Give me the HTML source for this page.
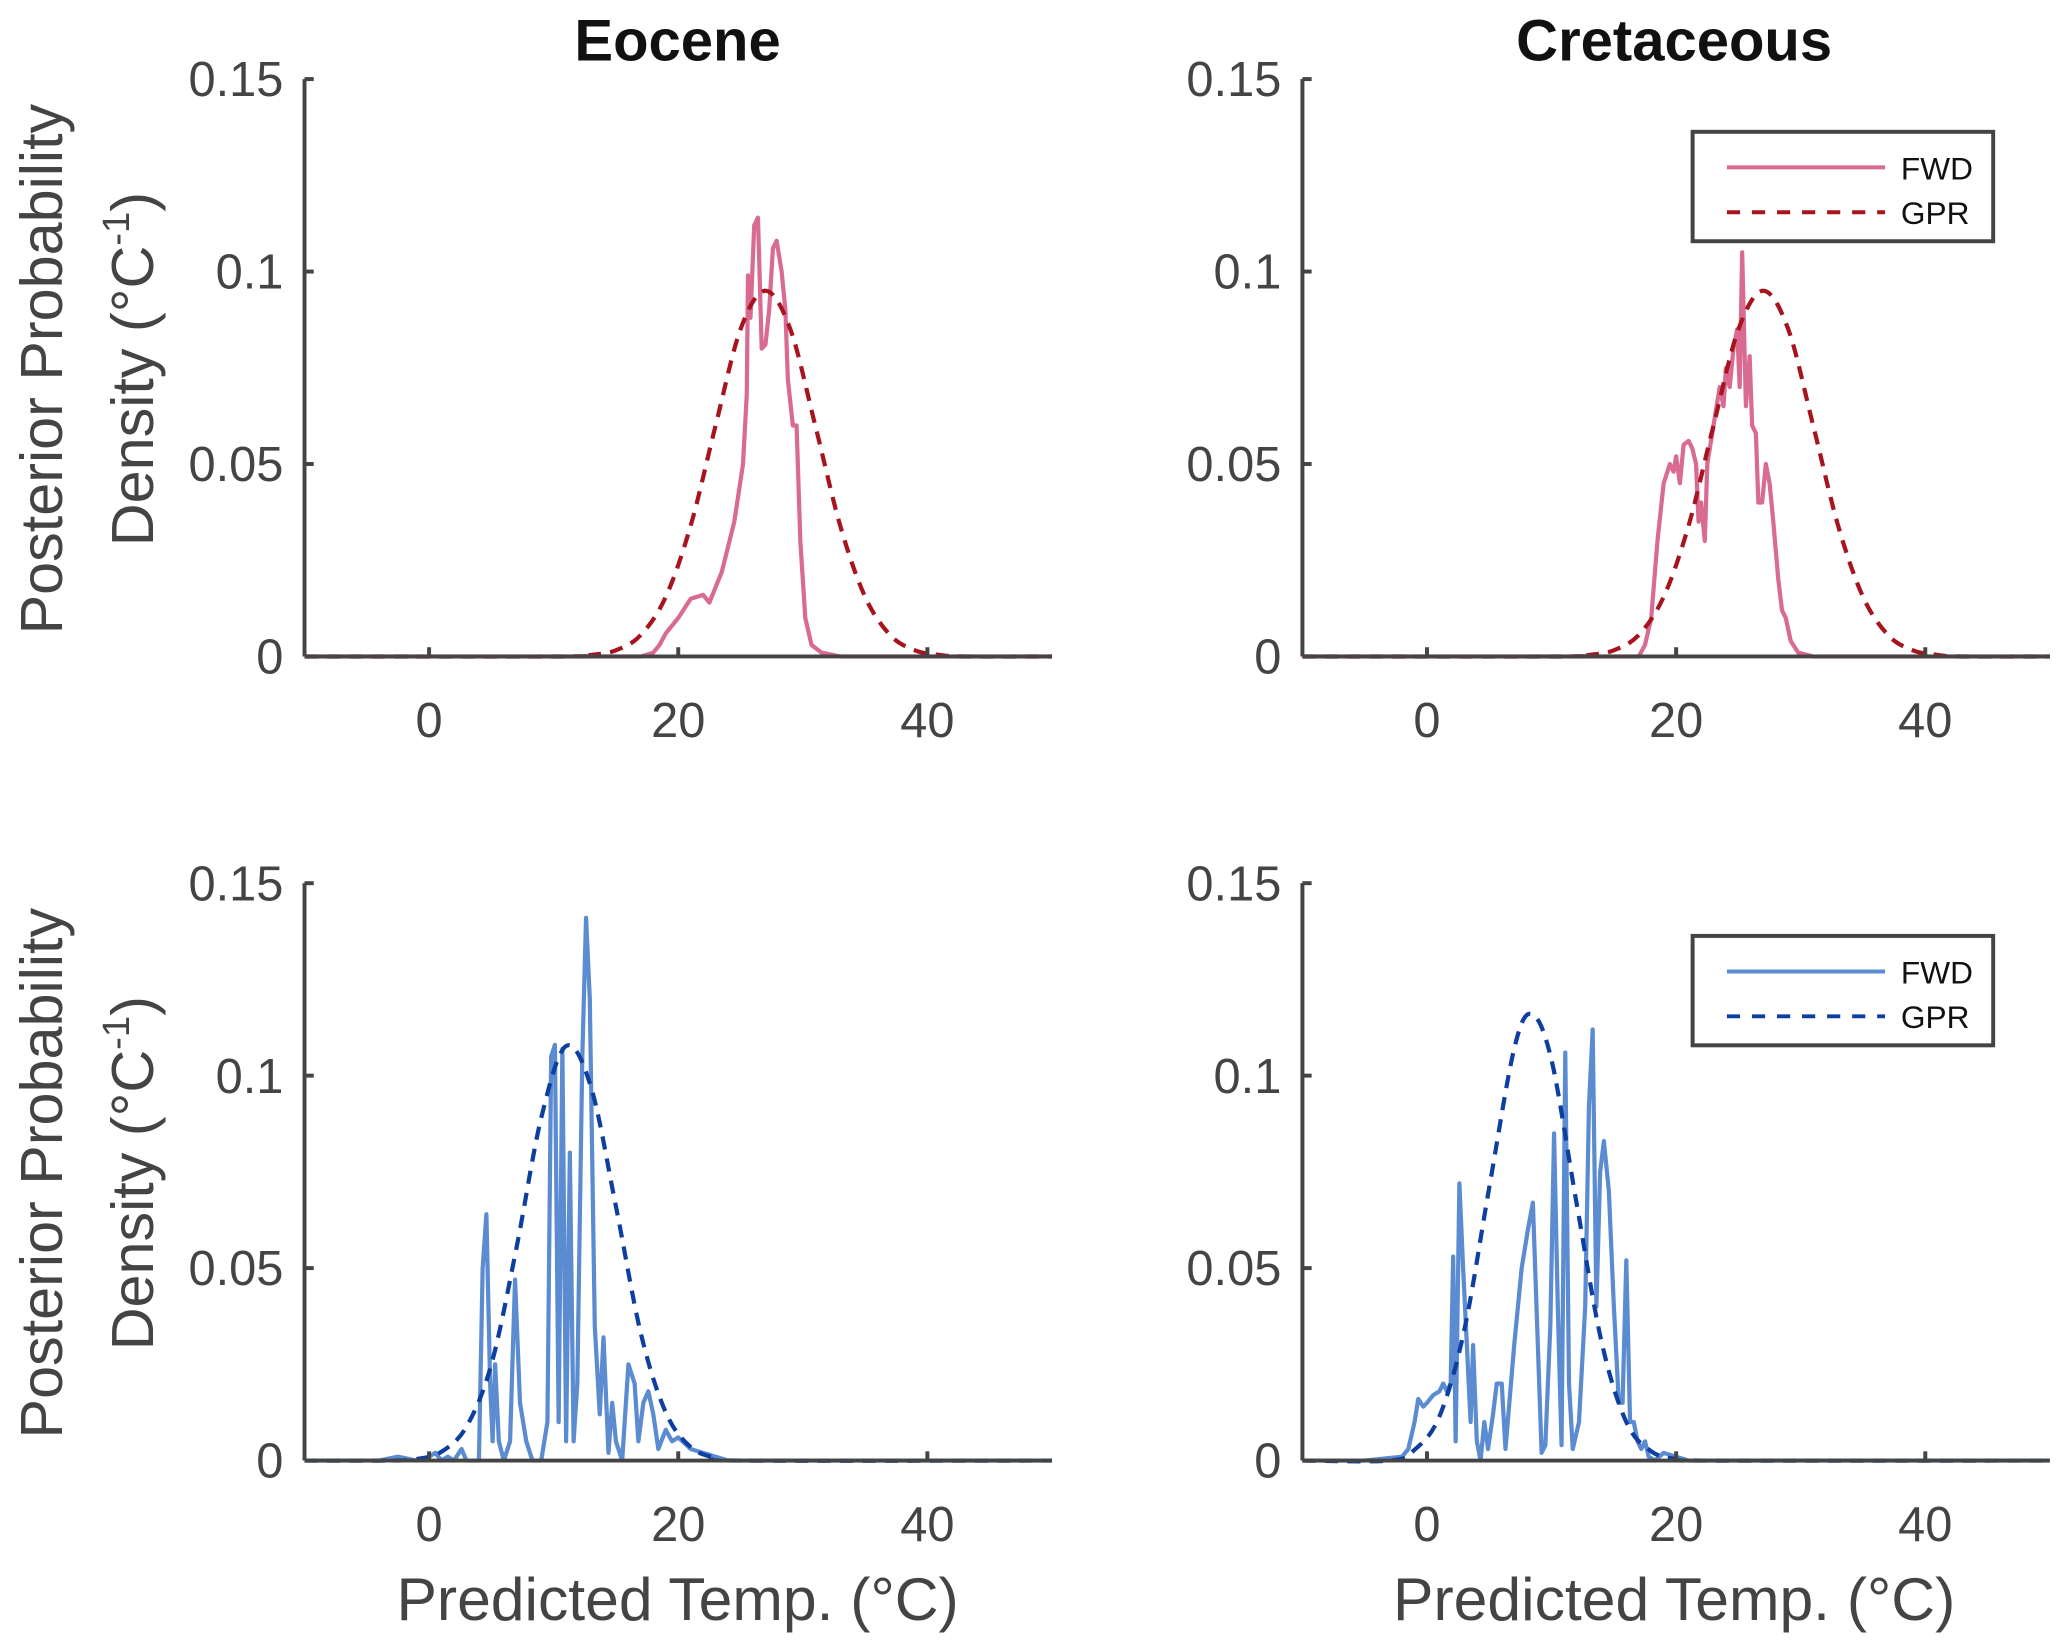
<!DOCTYPE html>
<html><head><meta charset="utf-8">
<style>
html,body{margin:0;padding:0;background:#fff;}
svg{display:block;font-family:"Liberation Sans",Arial,sans-serif;}
</style></head>
<body>
<svg id="fig" width="2067" height="1648" viewBox="0 0 1568 1250.2" preserveAspectRatio="none" xmlns="http://www.w3.org/2000/svg"></svg>
<script>
// ---- data ----
const xTicks = [0, 20, 40];
const yTicks = [0, 0.05, 0.1, 0.15];
const yTickLabels = ["0", "0.05", "0.1", "0.15"];
const xTickLabels = ["0", "20", "40"];

const eoWarmFwdX = [-10,17,18,18.5,19,20,21,22,22.5,23.5,24.5,25.2,25.5,25.6,25.8,26.1,26.4,26.7,27,27.3,27.6,27.9,28.3,28.6,28.8,29.2,29.5,29.8,30.2,30.7,31.5,33,50];
const eoWarmFwdY = [0,0,0.001,0.003,0.006,0.01,0.015,0.016,0.014,0.022,0.035,0.05,0.068,0.099,0.088,0.112,0.114,0.08,0.081,0.09,0.106,0.108,0.1,0.09,0.072,0.06,0.06,0.03,0.01,0.003,0.001,0,0];
const eoWarmGprX = [-10,11,13,15,17,19,21,23,25,27,29,31,33,35,37,39,41,43,50];
const eoWarmGprY = [0,0,0.0004,0.0016,0.0056,0.0155,0.034,0.060,0.085,0.095,0.085,0.060,0.034,0.0155,0.0056,0.0016,0.0004,0,0];

const crWarmFwdX = [-10,17,17.5,18,18.5,19,19.5,19.8,20,20.3,20.6,21,21.3,21.6,21.8,22,22.3,22.5,23,23.5,23.8,24,24.3,24.6,24.9,25.1,25.3,25.6,25.9,26.1,26.4,26.6,26.9,27.2,27.5,27.8,28.2,28.5,28.8,29.2,29.8,31,50];
const crWarmFwdY = [0,0,0.003,0.01,0.03,0.045,0.05,0.048,0.052,0.045,0.055,0.056,0.054,0.05,0.035,0.04,0.03,0.05,0.06,0.07,0.065,0.075,0.07,0.08,0.085,0.07,0.105,0.065,0.078,0.06,0.058,0.04,0.04,0.05,0.045,0.035,0.02,0.012,0.01,0.004,0.001,0,0];
const crWarmGprX = [-10,11,13,15,17,19,21,23,25,27,29,31,33,35,37,39,41,43,50];
const crWarmGprY = [0,0,0.0004,0.0016,0.0056,0.0155,0.034,0.060,0.085,0.095,0.085,0.060,0.034,0.0155,0.0056,0.0016,0.0004,0,0];

const eoColdFwdX = [-10,-4,-2.5,-1,0,0.5,1,1.5,2,2.6,3,4,4.3,4.6,4.9,5.1,5.3,5.6,6,6.5,6.9,7.3,7.8,8.3,9,9.5,9.8,10.1,10.4,10.7,11,11.3,11.6,11.9,12.3,12.6,12.9,13.3,13.7,14,14.4,14.7,15,15.5,16,16.5,16.8,17.2,17.6,18,18.4,19,19.5,20,21,22,23,24,50];
const eoColdFwdY = [0,0,0.001,0,0.001,0.002,0,0.001,0,0.003,0,0,0.05,0.064,0.02,0.005,0.025,0.005,0,0.005,0.047,0.015,0.005,0,0,0.01,0.105,0.108,0.01,0.107,0.005,0.08,0.005,0.02,0.105,0.141,0.12,0.035,0.012,0.032,0.002,0.015,0.005,0,0.025,0.02,0.005,0.015,0.018,0.012,0.003,0.008,0.005,0.006,0.003,0.002,0.001,0,0];
const eoColdGprX = [-10,-3,-1,1,3,5,7,9,11,13,15,17,19,21,23,25,50];
const eoColdGprY = [0,0,0.0004,0.0023,0.0088,0.025,0.055,0.089,0.1077,0.097,0.066,0.033,0.0125,0.0035,0.0007,0,0];

const crColdFwdX = [-10,-5,-2,-1.5,-1,-0.7,-0.3,0,0.5,1,1.3,1.6,1.9,2.1,2.3,2.6,2.9,3.2,3.5,3.7,4,4.3,4.6,4.9,5.3,5.6,6,6.3,7,7.6,8.1,8.5,9.2,9.5,9.9,10.2,10.5,10.8,11.1,11.4,11.7,12.2,12.7,13,13.3,13.6,13.9,14.2,14.6,15,15.4,15.7,16,16.3,16.6,16.9,17.2,17.5,17.8,18.3,19,20,21,50];
const crColdFwdY = [0,0,0.001,0.003,0.01,0.016,0.014,0.015,0.017,0.018,0.02,0.018,0.02,0.053,0.005,0.072,0.05,0.03,0.01,0.03,0.005,0,0.01,0.003,0.012,0.02,0.02,0.003,0.03,0.05,0.06,0.067,0.002,0.004,0.035,0.085,0.04,0.004,0.106,0.02,0.003,0.01,0.04,0.092,0.112,0.04,0.075,0.083,0.07,0.04,0.015,0.015,0.052,0.01,0.01,0.005,0.003,0.005,0.001,0,0.002,0.001,0,0];
const crColdGprX = [-10,-3,-1,1,3,5,7,8.4,10,12,14,16,18,20,22,50];
const crColdGprY = [0,0,0.0028,0.0115,0.034,0.071,0.107,0.116,0.104,0.067,0.031,0.010,0.0024,0.0004,0,0];

// ---- layout ----
const NS = "http://www.w3.org/2000/svg";
const svg = document.getElementById('fig');
function el(tag, attrs, parent, text){
  const e = document.createElementNS(NS, tag);
  for (const k in attrs) e.setAttribute(k, attrs[k]);
  if (text !== undefined) e.textContent = text;
  (parent || svg).appendChild(e);
  return e;
}
const cols = [{x0:231, x1:798}, {x0:988, x1:1555}];
const rows = [{yt:60, yb:498}, {yt:670, yb:1108}];
const AX = '#444';

const panels = [
  {c:0, r:0, name:'eocene-warm', fx:eoWarmFwdX, fy:eoWarmFwdY, gx:eoWarmGprX, gy:eoWarmGprY, fc:'#d96b92', gc:'#a8141e', legend:false},
  {c:1, r:0, name:'cretaceous-warm', fx:crWarmFwdX, fy:crWarmFwdY, gx:crWarmGprX, gy:crWarmGprY, fc:'#d96b92', gc:'#a8141e', legend:true},
  {c:0, r:1, name:'eocene-cold', fx:eoColdFwdX, fy:eoColdFwdY, gx:eoColdGprX, gy:eoColdGprY, fc:'#5b8bd0', gc:'#0d3fa0', legend:false},
  {c:1, r:1, name:'cretaceous-cold', fx:crColdFwdX, fy:crColdFwdY, gx:crColdGprX, gy:crColdGprY, fc:'#5b8bd0', gc:'#0d3fa0', legend:true}
];

function smoothPath(pts){
  let d = 'M' + pts[0][0] + ',' + pts[0][1];
  for (let i = 0; i < pts.length - 1; i++){
    const p0 = pts[i-1] || pts[i], p1 = pts[i], p2 = pts[i+1], p3 = pts[i+2] || p2;
    const c1x = p1[0] + (p2[0]-p0[0])/6, c1y = p1[1] + (p2[1]-p0[1])/6;
    const c2x = p2[0] - (p3[0]-p1[0])/6, c2y = p2[1] - (p3[1]-p1[1])/6;
    d += ' C' + c1x + ',' + c1y + ' ' + c2x + ',' + c2y + ' ' + p2[0] + ',' + p2[1];
  }
  return d;
}

panels.forEach(p => {
  const col = cols[p.c], row = rows[p.r];
  const sx = v => col.x0 + (v + 10) / 60 * (col.x1 - col.x0);
  const sy = v => row.yb - v / 0.15 * (row.yb - row.yt);
  const g = el('g', {});
  
  

  const gpts = p.gx.map((x, i) => [sx(x), sy(p.gy[i])]);
  const fpts = p.fx.map((x, i) => [sx(x), sy(p.fy[i])]);
  const fl = el('polyline', {points: fpts.map(q => q.join(',')).join(' '), fill:'none', stroke:p.fc, 'stroke-width':3.2, 'stroke-linejoin':'round'}, g);
  
  
  const gl = el('path', {d: smoothPath(gpts), fill:'none', stroke:p.gc, 'stroke-width':3.2, 'stroke-dasharray':'10 7'}, g);
  
  

  const ya = el('line', {x1:col.x0, y1:row.yt, x2:col.x0, y2:row.yb, stroke:AX, 'stroke-width':3}, g);
  
  
  const xa = el('line', {x1:col.x0, y1:row.yb, x2:col.x1, y2:row.yb, stroke:AX, 'stroke-width':3}, g);
  
  

  yTicks.forEach((t, i) => {
    el('line', {x1:col.x0, y1:sy(t), x2:col.x0+7, y2:sy(t), stroke:AX, 'stroke-width':3}, g);
    const tl = el('text', {x:col.x0-16, y:sy(t)+13, 'text-anchor':'end', 'font-size':37, fill:AX}, g, yTickLabels[i]);
    
    
  });
  xTicks.forEach((t, i) => {
    el('line', {x1:sx(t), y1:row.yb, x2:sx(t), y2:row.yb-7, stroke:AX, 'stroke-width':3}, g);
    const tl = el('text', {x:sx(t), y:row.yb+61, 'text-anchor':'middle', 'font-size':37, fill:AX}, g, xTickLabels[i]);
    
    
  });

  if (p.legend){
    const lx = 1284, ly = row.yt + 40;
    const lg = el('g', {}, g);
    
    
    el('rect', {x:lx, y:ly, width:228, height:83, fill:'#fff', stroke:AX, 'stroke-width':3}, lg);
    el('line', {x1:lx+26, y1:ly+27, x2:lx+146, y2:ly+27, stroke:p.fc, 'stroke-width':3}, lg);
    el('line', {x1:lx+26, y1:ly+61, x2:lx+146, y2:ly+61, stroke:p.gc, 'stroke-width':3, 'stroke-dasharray':'10 9'}, lg);
    const t1 = el('text', {x:lx+158, y:ly+36, 'font-size':24, fill:'#111'}, lg, 'FWD');
    
    
    const t2 = el('text', {x:lx+158, y:ly+70, 'font-size':24, fill:'#111'}, lg, 'GPR');
    
    
  }
});

[['Eocene', 514], ['Cretaceous', 1270]].forEach(t => {
  const e = el('text', {x:t[1], y:46, 'text-anchor':'middle', 'font-size':44, 'font-weight':'bold', fill:'#111'}, svg, t[0]);
  
  
});
[514, 1270].forEach(cx => {
  const e = el('text', {x:cx, y:1229, 'text-anchor':'middle', 'font-size':46, fill:AX}, svg, 'Predicted Temp. (°C)');
  
  
});
[280, 890].forEach(cy => {
  const g = el('g', {transform:'translate(0,' + cy + ') rotate(-90)'});
  
  
  el('text', {x:0, y:47, 'text-anchor':'middle', 'font-size':45, fill:AX}, g, 'Posterior Probability');
  const t = el('text', {x:0, y:116, 'text-anchor':'middle', 'font-size':45, fill:AX}, g);
  t.appendChild(document.createTextNode('Density (°C'));
  el('tspan', {dy:-18, 'font-size':29}, t, '-1');
  el('tspan', {dy:18}, t, ')');
});
</script>
</body></html>
